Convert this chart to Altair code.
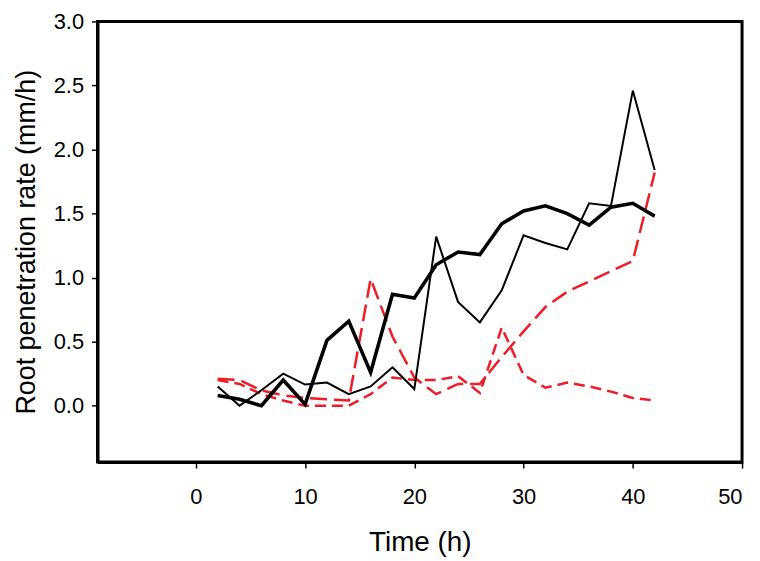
import altair as alt
import pandas as pd

time_h = [2, 4, 6, 8, 10, 12, 14, 16, 18, 20, 22, 24, 26, 28, 30, 32, 34, 36, 38, 40, 42]
black_thick = [0.08, 0.05, 0.0, 0.2, 0.01, 0.51, 0.66, 0.26, 0.87, 0.84, 1.1, 1.2, 1.18,
               1.42, 1.52, 1.56, 1.5, 1.41, 1.55, 1.58, 1.48]
black_thin = [0.15, 0.0, 0.12, 0.25, 0.165, 0.18, 0.09, 0.15, 0.3, 0.13, 1.32, 0.81, 0.65,
              0.9, 1.33, 1.27, 1.22, 1.58, 1.56, 2.46, 1.84]
red_long = [0.21, 0.2, 0.12, 0.08, 0.06, 0.05, 0.04, 0.99, 0.54, 0.22, 0.09, 0.17, 0.17,
            0.38, 0.58, 0.77, 0.89, 0.97, 1.05, 1.13, 1.82]
red_short = [0.2, 0.17, 0.09, 0.04, 0.0, 0.0, 0.0, 0.09, 0.22, 0.2, 0.2, 0.23, 0.1,
             0.61, 0.24, 0.14, 0.18, 0.15, 0.11, 0.06, 0.04]

x_ticks = [0, 10, 20, 30, 40, 50]
y_ticks = [0.0, 0.5, 1.0, 1.5, 2.0, 2.5, 3.0]

FONT = "Liberation Sans"
RED = "#ee1c25"

series = [
    ("red_short", red_short, RED, 2.5, [11, 6]),
    ("red_long", red_long, RED, 2.5, [17, 7]),
    ("black_thin", black_thin, "black", 2.0, None),
    ("black_thick", black_thick, "black", 3.6, None),
]

PLOT_H = 443

x_scale = alt.Scale(domain=[-9, 50], nice=False, zero=False)
y_scale = alt.Scale(domain=[-0.44, 3.0], nice=False, zero=False)

x_axis = alt.Axis(
    values=x_ticks, title="Time (h)", grid=False, format="d",
    domainColor="black", domainWidth=3, tickColor="black", tickWidth=1.5, tickSize=6,
    labelFontSize=22, labelFont=FONT, labelColor="black", labelPadding=19,
    titleFontSize=28, titleFont=FONT, titleFontWeight="normal", titleColor="black",
    titleY=89, titleBaseline="alphabetic",
)
y_axis = alt.Axis(
    values=y_ticks, title="Root penetration rate (mm/h)", grid=False, format=".1f",
    domainColor="black", domainWidth=3, tickColor="black", tickWidth=1.5, tickSize=6,
    labelFontSize=22, labelFont=FONT, labelColor="black", labelPadding=8,
    titleFontSize=27, titleFont=FONT, titleFontWeight="normal", titleColor="black",
    titleX=-63, titleY=PLOT_H / 2, titleAngle=270, titleAlign="center",
    titleBaseline="alphabetic",
)

layers = []
for name, vals, color, width, dash in series:
    df = pd.DataFrame({"time": time_h, "rate": vals})
    kw = dict(color=color, strokeWidth=width, strokeJoin="miter", strokeCap="butt")
    if dash:
        kw["strokeDash"] = dash
    layer = alt.Chart(df).mark_line(**kw).encode(
        x=alt.X("time:Q", scale=x_scale, axis=x_axis),
        y=alt.Y("rate:Q", scale=y_scale, axis=y_axis),
    )
    layers.append(layer)

chart = alt.layer(*layers).properties(
    width=648,
    height=PLOT_H,
    background="white",
    autosize=alt.AutoSizeParams(type="none"),
    padding={"left": 90, "top": 12, "right": 10, "bottom": 98},
).configure_view(stroke="black", strokeWidth=3)

chart.save("out.html", embed_options={"renderer": "svg", "actions": False})
